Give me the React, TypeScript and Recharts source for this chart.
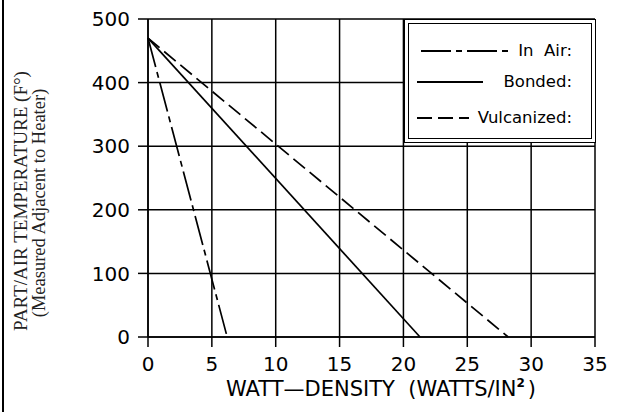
import React from 'react';
import { LineChart, Line, XAxis, YAxis, CartesianGrid, Legend } from 'recharts';

// temperature vs watt-density, all three curves start at 470 F
const inAir = [
  { watts: 0, temp: 470 },
  { watts: 6.2, temp: 0 },
];
const bonded = [
  { watts: 0, temp: 470 },
  { watts: 21.3, temp: 0 },
];
const vulcanized = [
  { watts: 0, temp: 470 },
  { watts: 28.2, temp: 0 },
];

const xTicks = [0, 5, 10, 15, 20, 25, 30, 35];
const yTicks = [0, 100, 200, 300, 400, 500];

const DASH_AIR = '30 5 6 5';
const DASH_VULC = '15 6';
const SANS = 'DejaVu Sans';

const legendRows = [
  { name: 'In  Air:', dash: DASH_AIR, left: 16, width: 87, top: 31 },
  { name: 'Bonded:', dash: undefined, left: 12, width: 66, top: 62 },
  { name: 'Vulcanized:', dash: DASH_VULC, left: 12, width: 52, top: 98 },
];

const LegendBox = () => (
  <div
    style={{
      position: 'absolute', inset: 0, background: '#fff',
      border: '1.5px solid #000', boxSizing: 'border-box',
    }}
  >
    <div style={{ position: 'absolute', inset: 3, border: '1.5px solid #000' }} />
    {legendRows.map((r) => (
      <React.Fragment key={r.name}>
        <svg
          width={r.width}
          height={4}
          style={{ position: 'absolute', left: r.left, top: r.top - 2 }}
        >
          <line x1={0} y1={2} x2={r.width} y2={2} stroke="#000" strokeWidth={1.8} strokeDasharray={r.dash} />
        </svg>
        <div
          style={{
            position: 'absolute', right: 23, top: r.top - 11, fontFamily: SANS,
            fontSize: 16.5, lineHeight: '22px', color: '#000', whiteSpace: 'pre',
          }}
        >
          {r.name}
        </div>
      </React.Fragment>
    ))}
  </div>
);

const YLabel = () => (
  <g fill="#222" fontFamily="Liberation Serif" textAnchor="middle">
    <text transform="rotate(-90)" x={-201} y={27} fontSize={19}>
      PART/AIR TEMPERATURE (F°)
    </text>
    <text transform="rotate(-90)" x={-203} y={45} fontSize={18.5}>
      (Measured Adjacent to Heater)
    </text>
  </g>
);

const XLabel = () => (
  <text x={381} y={396} textAnchor="middle" fontFamily={SANS} fontSize={21} fill="#000"
    style={{ whiteSpace: 'pre' }}>
    {'WATT—DENSITY  (WATTS/IN'}
    <tspan dy={-9} fontSize={12} fontWeight="bold">2</tspan>
    <tspan dy={9} dx={3}>)</tspan>
  </text>
);

export default function App() {
  return (
    <div style={{ position: 'absolute', left: 0, top: 0, width: 621, height: 412, background: '#fff' }}>
      <div style={{ position: 'absolute', left: 2, top: 0, width: 1.5, height: 412, background: '#000' }} />
      <LineChart width={621} height={412} margin={{ top: 19, right: 26, bottom: 0, left: 0 }}>
        <CartesianGrid stroke="#000" strokeWidth={1.5} />
        <XAxis
          type="number"
          dataKey="watts"
          domain={[0, 35]}
          ticks={xTicks}
          interval={0}
          height={75}
          tickSize={10}
          tickMargin={10}
          axisLine={{ stroke: '#000', strokeWidth: 1.5 }}
          tickLine={{ stroke: '#000', strokeWidth: 1.5 }}
          tick={{ fill: '#000', fontSize: 20, fontFamily: SANS }}
          label={{ content: () => <XLabel /> }}
        />
        <YAxis
          type="number"
          domain={[0, 500]}
          ticks={yTicks}
          interval={0}
          width={148}
          tickSize={10}
          tickMargin={8}
          axisLine={{ stroke: '#000', strokeWidth: 1.5 }}
          tickLine={{ stroke: '#000', strokeWidth: 1.5 }}
          tick={{ fill: '#000', fontSize: 20, fontFamily: SANS }}
          label={{ content: () => <YLabel /> }}
        />
        <Legend
          layout="horizontal"
          align="center"
          verticalAlign="middle"
          content={() => <LegendBox />}
          wrapperStyle={{ left: 404, top: 19, width: 192, height: 124, margin: 0 }}
        />
        <Line data={inAir} dataKey="temp" name="In Air:" stroke="#000" strokeWidth={1.7}
          strokeDasharray={DASH_AIR} dot={false} isAnimationActive={false} />
        <Line data={bonded} dataKey="temp" name="Bonded:" stroke="#000" strokeWidth={1.7}
          dot={false} isAnimationActive={false} />
        <Line data={vulcanized} dataKey="temp" name="Vulcanized:" stroke="#000" strokeWidth={1.7}
          strokeDasharray={DASH_VULC} dot={false} isAnimationActive={false} />
      </LineChart>
    </div>
  );
}
